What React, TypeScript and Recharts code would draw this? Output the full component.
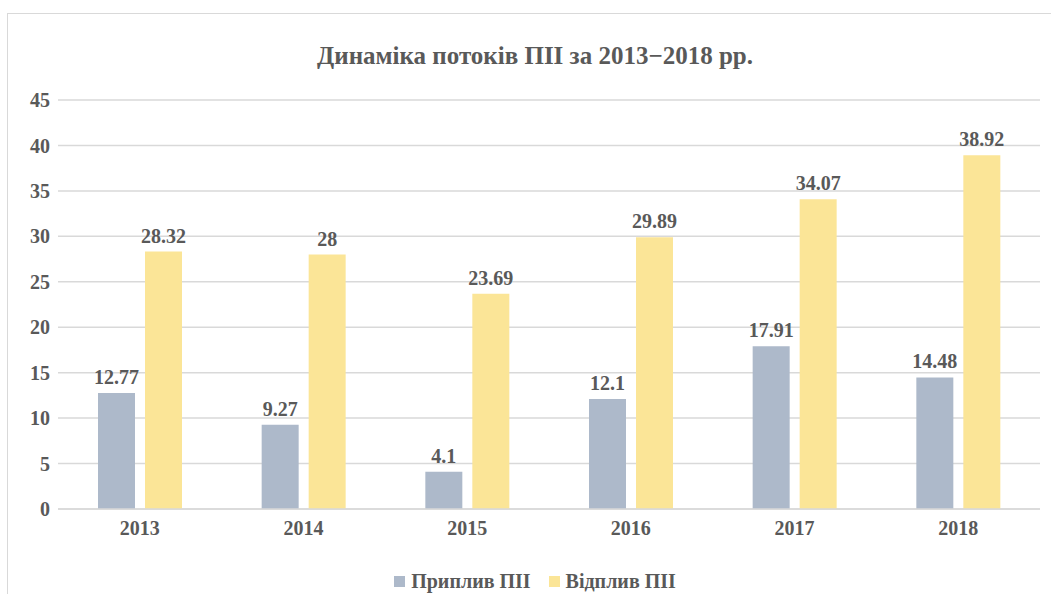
import { Bar, BarChart, CartesianGrid, LabelList, XAxis, YAxis } from "recharts";

const years = ["2013", "2014", "2015", "2016", "2017", "2018"];
const inflow = [12.77, 9.27, 4.1, 12.1, 17.91, 14.48];
const outflow = [28.32, 28, 23.69, 29.89, 34.07, 38.92];
const yTicks = [0, 5, 10, 15, 20, 25, 30, 35, 40, 45];

const data = years.map((year, i) => ({ year, inflow: inflow[i], outflow: outflow[i] }));

const FONT = '"Times New Roman", Tinos, "Liberation Serif", serif';
const TEXT = "#595959";
const series = [
  { key: "inflow", name: "Приплив ПІІ", color: "#ADB9CA" },
  { key: "outflow", name: "Відплив ПІІ", color: "#FBE597" },
];

function LegendBox() {
  return (
    <div
      style={{
        position: "absolute",
        top: 569,
        left: 0,
        width: 1070,
        display: "flex",
        justifyContent: "center",
        gap: 18,
        fontFamily: FONT,
        fontWeight: "bold",
        fontSize: 20,
        lineHeight: "24px",
        color: TEXT,
      }}
    >
      {series.map((s) => (
        <span key={s.key} style={{ display: "flex", alignItems: "center", gap: 6 }}>
          <span style={{ width: 11, height: 11, background: s.color, display: "inline-block" }} />
          {s.name}
        </span>
      ))}
    </div>
  );
}

export default function App() {
  return (
    <div
      style={{
        position: "fixed",
        left: 0,
        top: 0,
        width: 1051,
        height: 594,
        overflow: "hidden",
        background: "#fff",
      }}
    >
      <div
        style={{
          position: "absolute",
          left: 7,
          top: 13,
          width: 1100,
          height: 700,
          border: "1px solid #d9d9d9",
        }}
      />
      <div
        style={{
          position: "absolute",
          top: 42,
          width: 1070,
          textAlign: "center",
          fontFamily: FONT,
          fontWeight: "bold",
          fontSize: 25,
          color: TEXT,
        }}
      >
        Динаміка потоків ПІІ за 2013−2018 рр.
      </div>
      <div style={{ position: "absolute", left: 0, top: 0 }}>
        <BarChart
          width={1051}
          height={594}
          data={data}
          margin={{ top: 100, right: 11, bottom: 49, left: 0 }}
          barGap={10}
          barSize={37}
        >
          <CartesianGrid vertical={false} stroke="#d9d9d9" strokeWidth={1.5} />
          <XAxis
            dataKey="year"
            tickLine={false}
            axisLine={{ stroke: "#d9d9d9", strokeWidth: 1.5 }}
            tick={{ fill: TEXT, fontFamily: FONT, fontWeight: "bold", fontSize: 20 }}
            tickMargin={6}
            height={36}
          />
          <YAxis
            domain={[0, 45]}
            ticks={yTicks}
            tickLine={false}
            axisLine={false}
            width={58}
            tick={{ fill: TEXT, fontFamily: FONT, fontWeight: "bold", fontSize: 20 }}
          />
          {series.map((s) => (
            <Bar key={s.key} dataKey={s.key} name={s.name} fill={s.color} isAnimationActive={false}>
              <LabelList
                dataKey={s.key}
                position="top"
                offset={9}
                style={{ fill: TEXT, fontFamily: FONT, fontWeight: "bold", fontSize: 20 }}
              />
            </Bar>
          ))}
        </BarChart>
      </div>
      <LegendBox />
    </div>
  );
}
